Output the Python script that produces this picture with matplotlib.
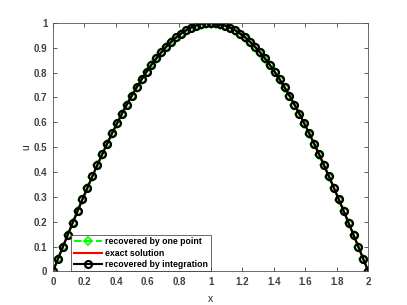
import matplotlib
matplotlib.use("Agg")
import matplotlib.pyplot as plt

# grid points (h = 1/32) and values
x_vals = [k * 0.03125 for k in range(65)]
u_half = [0.0, 0.0491, 0.0980, 0.1467, 0.1951, 0.2430, 0.2903, 0.3369, 0.3827,
          0.4276, 0.4714, 0.5141, 0.5556, 0.5957, 0.6344, 0.6716, 0.7071,
          0.7410, 0.7730, 0.8032, 0.8315, 0.8577, 0.8819, 0.9040, 0.9239,
          0.9415, 0.9569, 0.9700, 0.9808, 0.9892, 0.9952, 0.9988, 1.0]
u_exact = u_half + u_half[-2::-1]
u_one_point = [v * 0.997 for v in u_exact]
u_integration = list(u_exact)

x_ticks = [0, 0.2, 0.4, 0.6, 0.8, 1, 1.2, 1.4, 1.6, 1.8, 2]
y_ticks = [0, 0.1, 0.2, 0.3, 0.4, 0.5, 0.6, 0.7, 0.8, 0.9, 1]

plt.rcParams["font.family"] = ["Liberation Sans", "DejaVu Sans"]
plt.rcParams["font.weight"] = "bold"

fig = plt.figure(figsize=(4.07, 3.05), dpi=100)
ax = fig.add_axes([0.13, 0.11, 0.775, 0.815])

ax.plot(x_vals, u_one_point, "--", color="#00ff00", lw=1.5, marker="D",
        ms=4, mfc="none", mec="#00ff00", mew=1.2, label="recovered by one point")
ax.plot(x_vals, u_exact, "-", color="red", lw=1.5, label="exact solution")
ax.plot(x_vals, u_integration, "-", color="black", lw=1.5, marker="o",
        ms=5, mfc="none", mec="black", mew=1.6, label="recovered by integration")

ax.set_xlim(0, 2)
ax.set_ylim(0, 1)
ax.set_xticks(x_ticks)
ax.set_xticklabels(["0", "0.2", "0.4", "0.6", "0.8", "1", "1.2", "1.4", "1.6", "1.8", "2"])
ax.set_yticks(y_ticks)
ax.set_yticklabels(["0", "0.1", "0.2", "0.3", "0.4", "0.5", "0.6", "0.7", "0.8", "0.9", "1"])
ax.tick_params(direction="in", length=3, width=0.6, labelsize=7, colors="#404040",
               top=True, right=True, pad=4)
for s in ax.spines.values():
    s.set_color("#555555")
    s.set_linewidth(0.6)
ax.set_xlabel("x", fontsize=7.5, labelpad=5, color="#262626")
ax.set_ylabel("u", fontsize=7.5, labelpad=2, color="#262626")

leg = ax.legend(loc="lower left", bbox_to_anchor=(0.058, 0.0), fontsize=6.3,
                frameon=True, fancybox=False, edgecolor="#262626", handlelength=3.2,
                borderpad=0.3, labelspacing=0.25, handletextpad=0.4, borderaxespad=0)
leg.get_frame().set_linewidth(0.6)

fig.savefig("out.png", dpi=100)
